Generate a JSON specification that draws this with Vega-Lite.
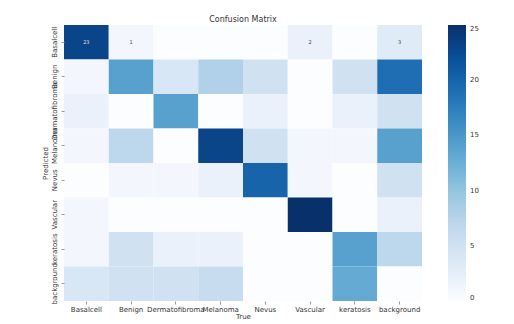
{
  "$schema": "https://vega.github.io/schema/vega-lite/v6.json",
  "autosize": "none",
  "padding": {"left": 64, "top": 25, "right": 92, "bottom": 23},
  "width": 358,
  "height": 276,
  "background": "white",
  "title": {"text": "Confusion Matrix", "fontSize": 8, "fontWeight": "normal", "font": "DejaVu Sans", "color": "#333", "offset": 1},
  "config": {"view": {"stroke": null}, "font": "DejaVu Sans"},
  "data": {"values": [
    {"pred": "Basalcell", "true": "Basalcell", "count": 23},
    {"pred": "Basalcell", "true": "Benign", "count": 1},
    {"pred": "Basalcell", "true": "Dermatofibroma", "count": 0},
    {"pred": "Basalcell", "true": "Melanoma", "count": 0},
    {"pred": "Basalcell", "true": "Nevus", "count": 0},
    {"pred": "Basalcell", "true": "Vascular", "count": 2},
    {"pred": "Basalcell", "true": "keratosis", "count": 0},
    {"pred": "Basalcell", "true": "background", "count": 3},
    {"pred": "Benign", "true": "Basalcell", "count": 1},
    {"pred": "Benign", "true": "Benign", "count": 14},
    {"pred": "Benign", "true": "Dermatofibroma", "count": 4},
    {"pred": "Benign", "true": "Melanoma", "count": 8},
    {"pred": "Benign", "true": "Nevus", "count": 5},
    {"pred": "Benign", "true": "Vascular", "count": 0},
    {"pred": "Benign", "true": "keratosis", "count": 5},
    {"pred": "Benign", "true": "background", "count": 19},
    {"pred": "Dermatofibroma", "true": "Basalcell", "count": 2},
    {"pred": "Dermatofibroma", "true": "Benign", "count": 0},
    {"pred": "Dermatofibroma", "true": "Dermatofibroma", "count": 14},
    {"pred": "Dermatofibroma", "true": "Melanoma", "count": 0},
    {"pred": "Dermatofibroma", "true": "Nevus", "count": 2},
    {"pred": "Dermatofibroma", "true": "Vascular", "count": 0},
    {"pred": "Dermatofibroma", "true": "keratosis", "count": 2},
    {"pred": "Dermatofibroma", "true": "background", "count": 5},
    {"pred": "Melanoma", "true": "Basalcell", "count": 1},
    {"pred": "Melanoma", "true": "Benign", "count": 7},
    {"pred": "Melanoma", "true": "Dermatofibroma", "count": 0},
    {"pred": "Melanoma", "true": "Melanoma", "count": 23},
    {"pred": "Melanoma", "true": "Nevus", "count": 5},
    {"pred": "Melanoma", "true": "Vascular", "count": 1},
    {"pred": "Melanoma", "true": "keratosis", "count": 1},
    {"pred": "Melanoma", "true": "background", "count": 14},
    {"pred": "Nevus", "true": "Basalcell", "count": 0},
    {"pred": "Nevus", "true": "Benign", "count": 1},
    {"pred": "Nevus", "true": "Dermatofibroma", "count": 1},
    {"pred": "Nevus", "true": "Melanoma", "count": 2},
    {"pred": "Nevus", "true": "Nevus", "count": 20},
    {"pred": "Nevus", "true": "Vascular", "count": 1},
    {"pred": "Nevus", "true": "keratosis", "count": 0},
    {"pred": "Nevus", "true": "background", "count": 5},
    {"pred": "Vascular", "true": "Basalcell", "count": 1},
    {"pred": "Vascular", "true": "Benign", "count": 0},
    {"pred": "Vascular", "true": "Dermatofibroma", "count": 0},
    {"pred": "Vascular", "true": "Melanoma", "count": 0},
    {"pred": "Vascular", "true": "Nevus", "count": 0},
    {"pred": "Vascular", "true": "Vascular", "count": 25},
    {"pred": "Vascular", "true": "keratosis", "count": 0},
    {"pred": "Vascular", "true": "background", "count": 2},
    {"pred": "keratosis", "true": "Basalcell", "count": 1},
    {"pred": "keratosis", "true": "Benign", "count": 5},
    {"pred": "keratosis", "true": "Dermatofibroma", "count": 2},
    {"pred": "keratosis", "true": "Melanoma", "count": 2},
    {"pred": "keratosis", "true": "Nevus", "count": 0},
    {"pred": "keratosis", "true": "Vascular", "count": 0},
    {"pred": "keratosis", "true": "keratosis", "count": 14},
    {"pred": "keratosis", "true": "background", "count": 7},
    {"pred": "background", "true": "Basalcell", "count": 4},
    {"pred": "background", "true": "Benign", "count": 5},
    {"pred": "background", "true": "Dermatofibroma", "count": 5},
    {"pred": "background", "true": "Melanoma", "count": 6},
    {"pred": "background", "true": "Nevus", "count": 0},
    {"pred": "background", "true": "Vascular", "count": 0},
    {"pred": "background", "true": "keratosis", "count": 13},
    {"pred": "background", "true": "background", "count": 0}
  ]},
  "encoding": {
    "x": {"field": "true", "type": "nominal", "title": "True",
      "sort": ["Basalcell", "Benign", "Dermatofibroma", "Melanoma", "Nevus", "Vascular", "keratosis", "background"],
      "scale": {"paddingInner": 0, "paddingOuter": 0},
      "axis": {"labelAngle": 0, "labelFontSize": 7, "labelColor": "#333", "titleFontSize": 7, "titleFontWeight": "normal", "titleColor": "#333", "titlePadding": 0, "tickSize": 3, "tickColor": "#999", "domain": false, "labelPadding": 1}},
    "y": {"field": "pred", "type": "nominal", "title": "Predicted",
      "sort": ["Basalcell", "Benign", "Dermatofibroma", "Melanoma", "Nevus", "Vascular", "keratosis", "background"],
      "scale": {"paddingInner": 0, "paddingOuter": 0},
      "axis": {"labelAngle": -90, "labelAlign": "center", "labelBaseline": "bottom", "labelFontSize": 7, "labelColor": "#333", "titleFontSize": 7, "titleFontWeight": "normal", "titleColor": "#333", "titlePadding": 2, "tickSize": 3, "tickColor": "#999", "domain": false, "labelPadding": 4}}
  },
  "layer": [
    {
      "mark": {"type": "rect", "strokeWidth": 0},
      "encoding": {
        "color": {"field": "count", "type": "quantitative",
          "scale": {"type": "linear", "domain": [0, 3.125, 6.25, 9.375, 12.5, 15.625, 18.75, 21.875, 25],
            "range": ["#fcfdff", "#deebf7", "#c6dbef", "#9ecae1", "#6baed6", "#4292c6", "#2171b5", "#08519c", "#08306b"]},
          "legend": {"title": null, "values": [0, 5, 10, 15, 20, 25], "gradientLength": 276, "gradientThickness": 18, "offset": 26, "labelFontSize": 7, "labelColor": "#333", "labelOffset": 4, "gradientStrokeWidth": 0, "padding": 0}}
      }
    },
    {
      "transform": [{"filter": "datum.pred == 'Basalcell' && datum.count > 0"}],
      "mark": {"type": "text", "fontSize": 5},
      "encoding": {
        "text": {"field": "count", "type": "quantitative"},
        "color": {"condition": {"test": "datum.count > 12", "value": "#dde"}, "value": "#444"}
      }
    }
  ]
}
